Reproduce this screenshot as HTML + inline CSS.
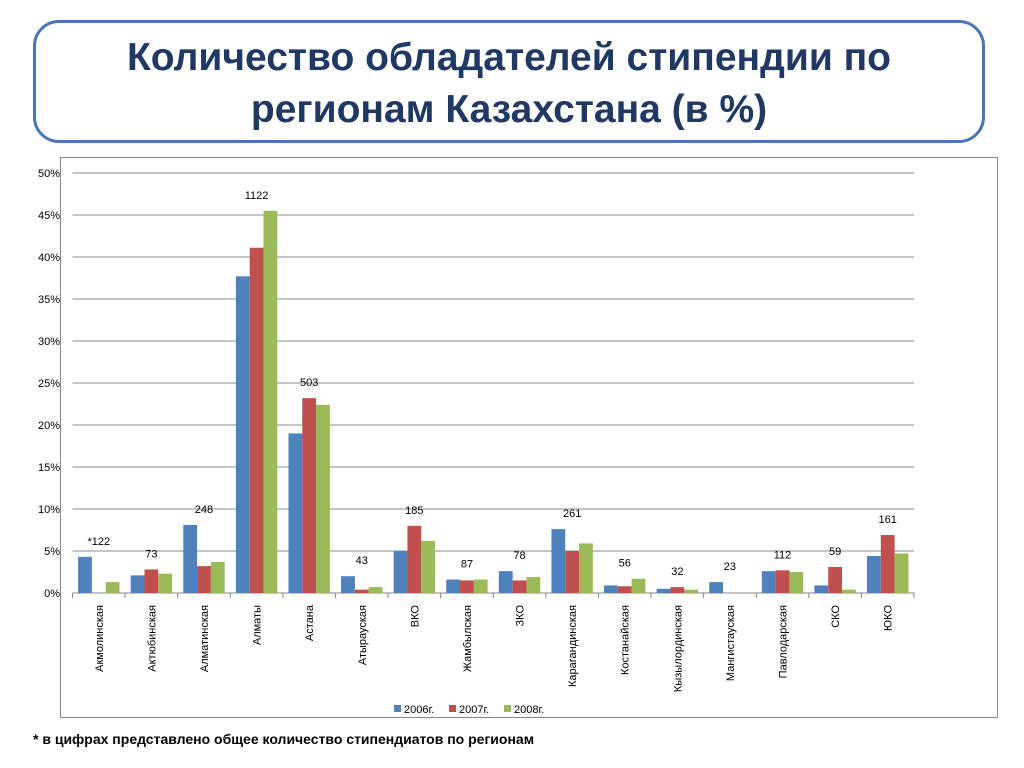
<!DOCTYPE html>
<html><head><meta charset="utf-8"><style>
body{margin:0;width:1024px;height:768px;background:#fff;font-family:"Liberation Sans",sans-serif;position:relative;overflow:hidden}
#title{position:absolute;left:33px;top:20px;width:946px;height:117px;border:3px solid #4a76b8;border-radius:26px;box-sizing:content-box}
#title div{text-align:center;font-weight:bold;color:#1f3864;font-size:39px;line-height:52px;margin-top:9px}
#note{position:absolute;left:33px;top:731px;font-weight:bold;font-size:14px}
</style></head><body>
<div id="title"><div>Количество обладателей стипендии по<br>регионам Казахстана (в %)</div></div>
<svg id="chart" width="1024" height="768" style="position:absolute;left:0;top:0"></svg>
<div id="note">* в цифрах представлено общее количество стипендиатов по регионам</div>
<script>
const categories=["Акмолинская","Актюбинская","Алматинская","Алматы","Астана","Атырауская","ВКО","Жамбылская","ЗКО","Карагандинская","Костанайская","Кызылординская","Мангистауская","Павлодарская","СКО","ЮКО"];
const s2006=[4.3,2.1,8.1,37.7,19.0,2.0,5.0,1.6,2.6,7.6,0.9,0.5,1.3,2.6,0.9,4.4];
const s2007=[0,2.8,3.2,41.1,23.2,0.4,8.0,1.5,1.5,5.0,0.8,0.7,0,2.7,3.1,6.9];
const s2008=[1.3,2.3,3.7,45.5,22.4,0.7,6.2,1.6,1.9,5.9,1.7,0.4,0,2.5,0.4,4.7];
const counts=["*122","73","248","1122","503","43","185","87","78","261","56","32","23","112","59","161"];
const yTicks=[0,5,10,15,20,25,30,35,40,45,50];
const seriesNames=["2006г.","2007г.","2008г."];
const colors=["#4f81bd","#c0504d","#9bbb59"];
const svg=document.getElementById('chart');const NS="http://www.w3.org/2000/svg";
function mk(t,a,p){const e=document.createElementNS(NS,t);for(const k in a)e.setAttribute(k,a[k]);(p||svg).appendChild(e);return e;}
const x0=72.5,x1=914,y0=593,y1=173;
const step=(x1-x0)/categories.length;
const yS=v=>y0-(v/50)*(y0-y1);
const xS=i=>x0+i*step;
const frame=mk('rect',{x:60.5,y:157.5,width:937,height:560,fill:'#fff',stroke:'#888'});

yTicks.forEach(t=>{const y=yS(t);
 const g=mk('line',{x1:x0,x2:x1,y1:y,y2:y,stroke:t===0?'#888':'#8c8c8c'});
 
 const l=mk('text',{x:60,y:y+4,'text-anchor':'end','font-size':11,fill:'#000'});l.textContent=t+'%';
 });
for(let i=0;i<=categories.length;i++){const tk=mk('line',{x1:xS(i),x2:xS(i),y1:y0,y2:y0+5,stroke:'#888'});
 }
const series=[s2006,s2007,s2008];const bw=13.8;
categories.forEach((c,i)=>{const gx=xS(i)+(step-3*bw)/2;
 series.forEach((s,k)=>{const v=s[i];const b=mk('rect',{x:gx+k*bw,y:yS(v),width:bw,height:y0-yS(v),fill:colors[k]});
  });
 const mx=Math.max(s2006[i],s2007[i],s2008[i]);
 const lt=mk('text',{x:xS(i)+step/2,y:yS(mx)-12,'text-anchor':'middle','font-size':11});lt.textContent=counts[i];
 
 const cx=xS(i)+step/2+4;
 const cl=mk('text',{x:cx,y:605,'text-anchor':'end','font-size':11,transform:`rotate(-90 ${cx} 605)`});cl.textContent=c;
 });
let lx=394;
seriesNames.forEach((n,k)=>{const r=mk('rect',{x:lx,y:705,width:7,height:7,fill:colors[k]});
 
 const t=mk('text',{x:lx+10,y:713,'font-size':11});t.textContent=n;
 lx+=55;});
</script>
</body></html>
